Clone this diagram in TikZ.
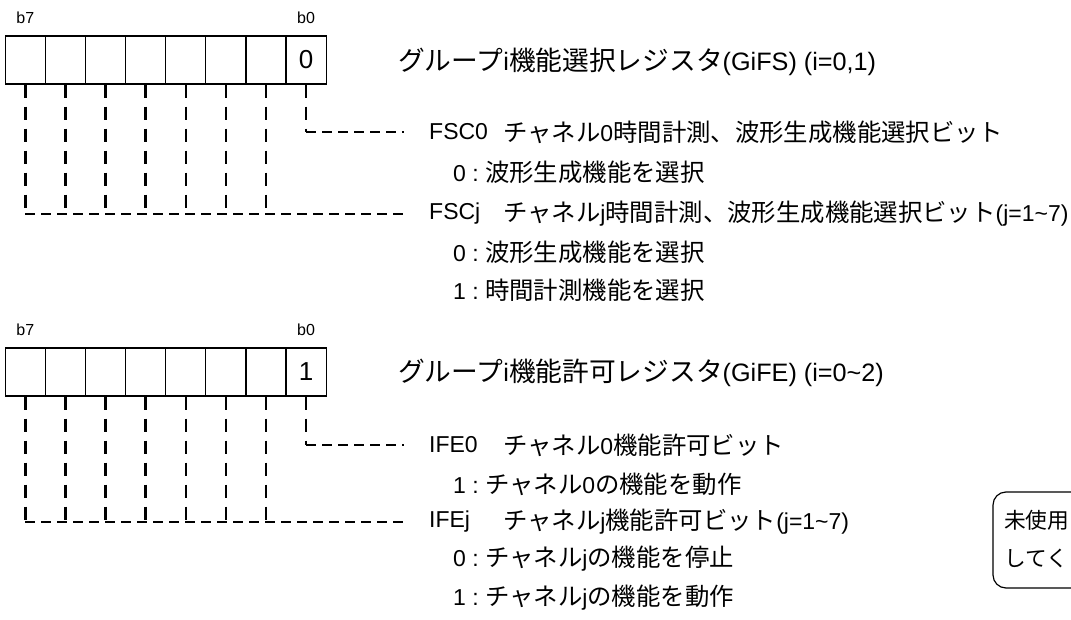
\documentclass[tikz,border=0pt]{standalone}
\usepackage{fontspec}
\setmainfont{Liberation Sans}
\newfontfamily\jp[Scale=1.06]{Noto Sans CJK JP}
\tikzset{
	bitcell/.style={draw, line width=1.2pt, minimum width=40.1pt, minimum height=48pt, inner sep=0pt, font=\fontsize{26}{30}\selectfont},
	bitlabel/.style={inner sep=0pt, font=\fontsize{16}{18}\selectfont},
	regtitle/.style={anchor=west, inner sep=0pt, font=\fontsize{25.2}{30}\selectfont},
	fieldtext/.style={anchor=west, inner sep=0pt, font=\fontsize{23}{27}\selectfont},
	memotext/.style={anchor=west, inner sep=0pt, font=\fontsize{20.5}{24}\selectfont},
	vdash/.style={line width=2.4pt, dash pattern=on 13pt off 9pt},
	hdash/.style={line width=2.4pt, dash pattern=on 10pt off 6pt},
}

\begin{document}
\begin{tikzpicture}[x=1pt,y=-1pt]
		\useasboundingbox (0,0) rectangle (1071,620);
		\clip (0,0) rectangle (1071,620);
		\foreach \b in {1,...,7}
			\node[bitcell] (fs\b) at ({25.35+40.1*(7-\b)},60) {};
		\node[bitcell] (fs0) at (306.05,60) {0};
		\node[bitlabel] (fsb7) at (25.35,18) {b7};
		\node[bitlabel] (fsb0) at (306.05,18) {b0};
		\node[regtitle] (gifs) at (398,62) {{\jp グループ}i{\jp 機能選択レジスタ}(GiFS) (i=0,1)};
		\node[fieldtext] (fsc0) at (429,132) {FSC0};
		\node[fieldtext] (fsc0d) at (503,132) {{\jp チャネル}0{\jp 時間計測、波形生成機能選択ビット}};
		\node[fieldtext] (fsc0v) at (453,172) {0 :\ {\jp 波形生成機能を選択}};
		\node[fieldtext] (fscj) at (429,214) {FSCj};
		\node[fieldtext] (fscjd) at (503,214) {{\jp チャネル}j{\jp 時間計測、波形生成機能選択ビット}(j=1\textasciitilde 7)};
		\node[fieldtext] (fscjv0) at (453,252) {0 :\ {\jp 波形生成機能を選択}};
		\node[fieldtext] (fscjv1) at (453,290) {1 :\ {\jp 時間計測機能を選択}};
		\draw[vdash] (fs0.south) -- (fs0.south |- fsc0.west);
		\draw[hdash] (fs0.south |- fsc0.west) -- ([xshift=-25pt]fsc0.west);
		\foreach \b in {1,...,7}
			\draw[vdash] (fs\b.south) -- (fs\b.south |- fscj.west);
		\draw[hdash] (fs7.south |- fscj.west) -- ([xshift=-25pt]fscj.west);
		\foreach \b in {1,...,7}
			\node[bitcell] (fe\b) at ({25.35+40.1*(7-\b)},372) {};
		\node[bitcell] (fe0) at (306.05,372) {1};
		\node[bitlabel] (feb7) at (25.35,330) {b7};
		\node[bitlabel] (feb0) at (306.05,330) {b0};
		\node[regtitle] (gife) at (398,373) {{\jp グループ}i{\jp 機能許可レジスタ}(GiFE) (i=0\textasciitilde 2)};
		\node[fieldtext] (ife0) at (429,445) {IFE0};
		\node[fieldtext] (ife0d) at (503,445) {{\jp チャネル}0{\jp 機能許可ビット}};
		\node[fieldtext] (ife0v) at (453,484) {1 :\ {\jp チャネル}0{\jp の機能を動作}};
		\node[fieldtext] (ifej) at (429,522) {IFEj};
		\node[fieldtext] (ifejd) at (503,522) {{\jp チャネル}j{\jp 機能許可ビット}(j=1\textasciitilde 7)};
		\node[fieldtext] (ifejv0) at (453,559) {0 :\ {\jp チャネル}j{\jp の機能を停止}};
		\node[fieldtext] (ifejv1) at (453,598) {1 :\ {\jp チャネル}j{\jp の機能を動作}};
		\draw[vdash] (fe0.south) -- (fe0.south |- ife0.west);
		\draw[hdash] (fe0.south |- ife0.west) -- ([xshift=-25pt]ife0.west);
		\foreach \b in {1,...,7}
			\draw[vdash] (fe\b.south) -- (fe\b.south |- ifej.west);
		\draw[hdash] (fe7.south |- ifej.west) -- ([xshift=-25pt]ifej.west);
		\draw[line width=1.2pt, rounded corners=13pt] (993,492) rectangle (1120,588);
		\node[memotext] (memo1) at (1004,520) {\jp 未使用};
		\node[memotext] (memo2) at (1004,558) {\jp してく};
		\end{tikzpicture}
\end{document}
